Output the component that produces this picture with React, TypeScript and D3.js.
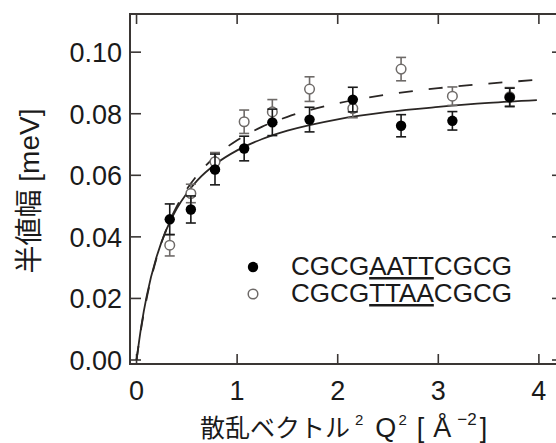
import React from 'react';
import * as d3 from 'd3';

// Q^2 values [Å^-2]
const q2 = [0.33, 0.54, 0.78, 1.07, 1.35, 1.72, 2.15, 2.63, 3.14, 3.71];
// CGCGAATTCGCG (filled)
const aattWidth = [0.0457, 0.0489, 0.0619, 0.0687, 0.0772, 0.0781, 0.0846, 0.0761, 0.0777, 0.0853];
const aattErr = [0.005, 0.0044, 0.005, 0.004, 0.0043, 0.004, 0.004, 0.0036, 0.003, 0.003];
// CGCGTTAACGCG (open)
const ttaaWidth = [0.0373, 0.0541, 0.0644, 0.0774, 0.0806, 0.088, 0.0817, 0.0945, 0.0857, 0.0855];
const ttaaErr = [0.0035, 0.003, 0.003, 0.0038, 0.004, 0.004, 0.003, 0.0038, 0.003, 0.003];

// fitted curves
const fitQ2 = [0, 0.05, 0.1, 0.2, 0.3, 0.4, 0.5, 0.6, 0.8, 1.0, 1.25, 1.5, 2.0, 2.5, 3.0, 3.5, 3.98];
const aattFit = [0, 0.0116, 0.0206, 0.0336, 0.0426, 0.0492, 0.0542, 0.0582, 0.064, 0.0681, 0.0718, 0.0745, 0.0782, 0.0806, 0.0822, 0.0835, 0.0844];
const ttaaFit = [0, 0.0111, 0.0199, 0.0332, 0.0428, 0.0499, 0.0555, 0.0599, 0.0666, 0.0714, 0.0758, 0.079, 0.0834, 0.0863, 0.0883, 0.0898, 0.091];

const xTicks = [0, 1, 2, 3, 4];
const yTicks = [0, 0.02, 0.04, 0.06, 0.08, 0.1];

const FONT = '"Liberation Sans", Arial, "Noto Sans CJK JP", sans-serif';
const AXIS = '#3a3634';

export default function App() {
  const x = d3.scaleLinear().domain([-0.065, 4.19]).range([130, 558]);
  const y = d3.scaleLinear().domain([-0.0013, 0.1124]).range([364, 14]);
  const [x0, x1] = x.range();
  const [y0, y1] = y.range();

  const line = d3.line<number>()
    .x((d, i) => x(fitQ2[i]))
    .y(d => y(d))
    .curve(d3.curveMonotoneX);

  const errBar = (xv: number, v: number, e: number, color: string, key: string) => {
    const cx = x(xv);
    return (
      <g key={key} stroke={color} strokeWidth={1.6}>
        <line x1={cx} x2={cx} y1={y(v - e)} y2={y(v + e)} />
        <line x1={cx - 5} x2={cx + 5} y1={y(v - e)} y2={y(v - e)} />
        <line x1={cx - 5} x2={cx + 5} y1={y(v + e)} y2={y(v + e)} />
      </g>
    );
  };

  return (
    <svg width={556} height={443} style={{ position: 'absolute', left: 0, top: 0, background: '#fff' }} fontFamily={FONT}>
      {/* frame */}
      <rect x={x0} y={y1} width={x1 - x0} height={y0 - y1} fill="none" stroke={AXIS} strokeWidth={2} />
      {xTicks.map(t => (
        <g key={'xt' + t} stroke={AXIS} strokeWidth={1.6}>
          <line x1={x(t)} x2={x(t)} y1={y0} y2={y0 - 10} />
          <line x1={x(t)} x2={x(t)} y1={y1} y2={y1 + 10} />
        </g>
      ))}
      {yTicks.map(t => (
        <g key={'yt' + t} stroke={AXIS} strokeWidth={1.6}>
          <line x1={x0} x2={x0 + 11} y1={y(t)} y2={y(t)} />
          <line x1={x1} x2={x1 - 6} y1={y(t)} y2={y(t)} />
        </g>
      ))}
      {xTicks.map(t => (
        <text key={'xl' + t} x={x(t)} y={400} textAnchor="middle" fontSize={27} fill="#1a1a1a">{t}</text>
      ))}
      {yTicks.map(t => (
        <text key={'yl' + t} x={122} y={y(t) + 10} textAnchor="end" fontSize={27} fill="#1a1a1a">{t.toFixed(2)}</text>
      ))}

      {/* curves */}
      <path d={line(aattFit) || ''} fill="none" stroke="#2a2624" strokeWidth={1.8} />
      <path d={line(ttaaFit) || ''} fill="none" stroke="#2a2624" strokeWidth={1.8} strokeDasharray="14,16" />

      {/* open points */}
      {q2.map((q, i) => errBar(q, ttaaWidth[i], ttaaErr[i], '#6e6a68', 'oe' + i))}
      {q2.map((q, i) => (
        <circle key={'oc' + i} cx={x(q)} cy={y(ttaaWidth[i])} r={4.8} fill="#fff" stroke="#6e6a68" strokeWidth={1.5} />
      ))}
      {/* filled points */}
      {q2.map((q, i) => errBar(q, aattWidth[i], aattErr[i], '#1a1a1a', 'fe' + i))}
      {q2.map((q, i) => (
        <circle key={'fc' + i} cx={x(q)} cy={y(aattWidth[i])} r={5.2} fill="#000" />
      ))}

      {/* legend */}
      <circle cx={253} cy={267} r={5.2} fill="#000" />
      <circle cx={253} cy={294} r={4.8} fill="#fff" stroke="#6e6a68" strokeWidth={1.5} />
      <text x={291} y={275} fontSize={25} fill="#1a1a1a" textLength={221} lengthAdjust="spacingAndGlyphs">
        CGCG<tspan style={{ textDecoration: 'underline' }}>AATT</tspan>CGCG
      </text>
      <text x={291} y={302} fontSize={25} fill="#1a1a1a" textLength={221} lengthAdjust="spacingAndGlyphs">
        CGCG<tspan style={{ textDecoration: 'underline' }}>TTAA</tspan>CGCG
      </text>

      {/* axis titles */}
      <text x={200} y={437} fontSize={25} fill="#1a1a1a">
        散乱ベクトル<tspan fontSize={15} dy={-12} dx={5}>2</tspan>
        <tspan fontSize={27} dy={12} dx={12}>Q</tspan>
        <tspan fontSize={15} dy={-12} dx={2}>2</tspan>
        <tspan fontSize={27} dy={12} dx={10}>[</tspan>
        <tspan fontSize={27} dx={9}>Å</tspan>
        <tspan fontSize={17} dy={-12} dx={6}>−2</tspan>
        <tspan fontSize={27} dy={12} dx={3}>]</tspan>
      </text>
      <text transform="translate(39,191) rotate(-90)" textAnchor="middle" fontSize={28} fill="#1a1a1a">
        半値幅 [meV]
      </text>
    </svg>
  );
}
